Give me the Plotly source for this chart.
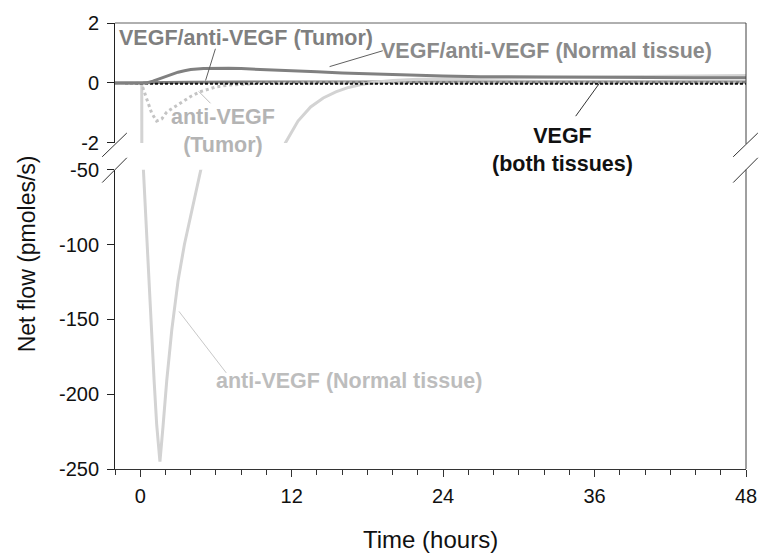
import plotly.graph_objects as go

# ---------------- data ----------------
t_cn = [-2, 0, 0.5, 1, 1.5, 2, 2.5, 3, 3.5, 4, 5, 6, 7, 8, 10, 12, 14, 16, 18, 20, 22, 24, 27, 30, 33, 36, 40, 44, 48]
v_cn = [0, 0, 0, 0.06, 0.14, 0.22, 0.30, 0.36, 0.41, 0.45, 0.48, 0.49, 0.49, 0.48, 0.45, 0.41, 0.37, 0.33, 0.30, 0.27, 0.25, 0.23, 0.21, 0.20, 0.19, 0.18, 0.18, 0.17, 0.17]

t_ct = [-2, 0, 0.5, 2, 4, 8, 12, 18, 24, 30, 36, 42, 48]
v_ct = [0, 0, 0, 0.01, 0.02, 0.03, 0.03, 0.03, 0.03, 0.03, 0.03, 0.03, 0.03]

t_an = [-2, 0, 0.12, 0.18, 0.25, 0.55, 0.83, 1.1, 1.3, 1.56, 1.8, 2.1, 2.5, 3.0, 3.5, 4.2, 4.8, 6, 7, 8, 9, 10, 11, 11.5,
        12.5, 13.5, 14.5, 15.5, 16.5, 17.5, 18.5, 20, 22, 24, 28, 32, 36, 40, 44, 48]
v_an = [0, 0, 0, -20, -50, -100, -150, -191, -220, -245, -222, -191, -157, -124, -100, -72, -50, -28, -17, -10.8, -6.6, -4.1, -2.5, -2,
        -1.27, -0.8, -0.5, -0.3, -0.15, -0.05, 0.02, 0.08, 0.12, 0.14, 0.16, 0.18, 0.20, 0.21, 0.23, 0.25]

t_at = [-2, 0, 0.2, 0.6, 0.9, 1.3, 1.7, 2.1, 2.8, 3.4, 4.0, 4.7, 5.4, 6, 7, 8, 9, 10, 12, 16, 20, 24, 30, 36, 42, 48]
v_at = [0, 0, -0.15, -0.63, -1.0, -1.27, -1.2, -0.97, -0.78, -0.6, -0.45, -0.3, -0.2, -0.13, -0.07, -0.04, -0.02, -0.01, 0, 0, 0, 0, 0, 0, 0, 0]

t_v = [-2, 0, 0.5, 1, 2, 4, 8, 12, 24, 36, 48]
v_v = [0, 0, -0.02, -0.03, -0.03, -0.03, -0.03, -0.03, -0.03, -0.03, -0.03]

x_ticks = [0, 12, 24, 36, 48]
y_top_ticks = [-2, 0, 2]
y_top_labels = ["-2", "0", "2"]
y_bot_ticks = [-250, -200, -150, -100, -50]
y_bot_labels = ["-250", "-200", "-150", "-100", "-50"]

# ---------------- layout helpers ----------------
W, H = 769, 558
L, R, T, B = 115, 13, 19, 89
PW, PH = W - L - R, H - T - B


def px(x):
    return (x - L) / PW


def py(y):
    return (H - B - y) / PH


FONT = "Liberation Sans, Arial, sans-serif"
DARK = "#808080"
LIGHT = "#d3d3d3"

fig = go.Figure()

series = [
    (t_ct, v_ct, dict(color=DARK, width=3)),
    (t_an, v_an, dict(color=LIGHT, width=3)),
    (t_at, v_at, dict(color="#c4c4c4", width=3, dash="dot")),
    (t_v, v_v, dict(color="#111111", width=2, dash="3px,2px")),
    (t_cn, v_cn, dict(color=DARK, width=3)),
]
for xs, ys, ln in series:
    for ax in ("y", "y2"):
        fig.add_trace(go.Scatter(x=xs, y=ys, mode="lines", line=ln, yaxis=ax,
                                 showlegend=False, hoverinfo="skip"))

top_dom = [py(140), 1.0]
bot_dom = [0.0, py(167)]

yax_common = dict(ticks="outside", ticklen=7, tickcolor="#222", showline=True, linecolor="#222",
                  linewidth=1, showgrid=False, zeroline=False, anchor="x",
                  tickfont=dict(size=20, color="#111"), ticklabelstandoff=4)

fig.update_layout(
    width=W, height=H,
    margin=dict(l=L, r=R, t=T, b=B),
    paper_bgcolor="white", plot_bgcolor="white",
    font=dict(family=FONT, size=20, color="#222"),
    xaxis=dict(range=[-2, 48], tickvals=x_ticks, ticks="outside", ticklen=7, tickcolor="#333",
               showline=True, linecolor="#333", linewidth=1, showgrid=False, zeroline=False,
               anchor="y", minor=dict(dtick=2, tick0=0, ticks="outside", ticklen=5, tickcolor="#333"),
               tickfont=dict(size=20, color="#111"), ticklabelstandoff=2),
    yaxis=dict(domain=bot_dom, range=[-250, -50], tickvals=y_bot_ticks, ticktext=y_bot_labels, **yax_common),
    yaxis2=dict(domain=top_dom, range=[-2, 2], tickvals=y_top_ticks, ticktext=y_top_labels, **yax_common),
)

shapes = []


def seg(x0, y0, x1, y1, color, width=1):
    shapes.append(dict(type="line", xref="paper", yref="paper",
                       x0=px(x0), y0=py(y0), x1=px(x1), y1=py(y1),
                       line=dict(color=color, width=width)))


# frame (top + right border with break)
seg(115, 19, 756, 19, "#606060")
seg(756, 19, 756, 141, "#404040")
seg(756, 167, 756, 469, "#404040")
# break marks
for xo in (102, 743):
    seg(xo, 154, xo + 25, 130, "#333333")
    seg(xo, 180, xo + 25, 155, "#333333")
# pointer lines
seg(387, 47, 333, 63, "#606060")
seg(217, 45, 207, 77, "#606060")
seg(212, 100, 200, 88, "#bdbdbd")
seg(583, 113, 607, 80, "#333333")
seg(180, 310, 228, 372, "#c8c8c8")
fig.update_layout(shapes=shapes)

ann = []


def label(text, x, y, color, bold=True, size=21.5, angle=0):
    ann.append(dict(text=f"<b>{text}</b>" if bold else text, x=px(x), y=py(y), xref="paper", yref="paper",
                    showarrow=False, xanchor="center", yanchor="middle", textangle=angle,
                    font=dict(family=FONT, size=size, color=color)))


label("VEGF/anti-VEGF (Tumor)", 248, 34, "#7f7f7f")
label("VEGF/anti-VEGF (Normal tissue)", 553, 47, "#8a8a8a")
label("anti-VEGF<br>(Tumor)", 225, 128, "#b4b4b4")
label("VEGF<br>(both tissues)", 570, 147, "#111111")
label("anti-VEGF (Normal tissue)", 353, 380, "#bdbdbd")
label("Time (hours)", 436, 540, "#111111", bold=False, size=24)
label("Net flow (pmoles/s)", 26, 252, "#111111", bold=False, size=23, angle=-90)
fig.update_layout(annotations=ann)

fig.write_html("out.html")
